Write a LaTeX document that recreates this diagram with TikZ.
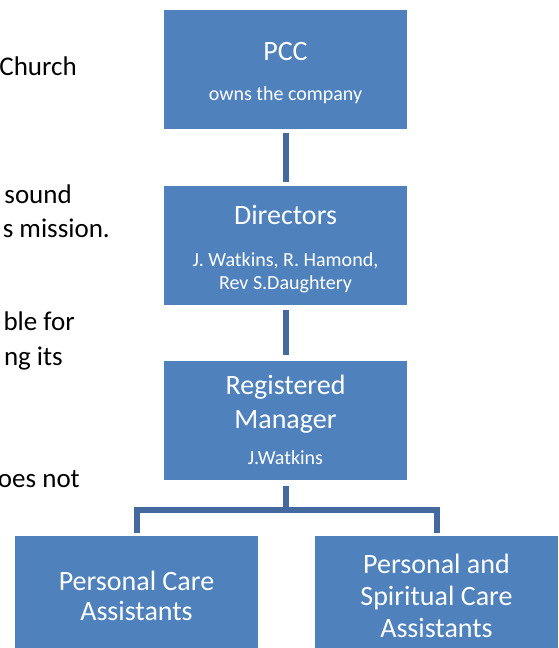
\documentclass[tikz,border=0pt]{standalone}
\usepackage{fontspec}
\setmainfont{Carlito}
\usetikzlibrary{calc}

\definecolor{boxblue}{HTML}{4F81BD}
\definecolor{linkblue}{HTML}{43699E}

\newcommand\ttlfont{\fontsize{28}{32}\selectfont}
\newcommand\subfont{\fontsize{20}{23}\selectfont}
\newcommand\pagefont{\fontsize{27}{32}\selectfont}

\tikzset{
  orgbox/.style={fill=boxblue,text=white,minimum width=243pt,minimum height=119pt,
    inner sep=0pt,align=center,font=\ttlfont},
  link/.style={draw=linkblue,line width=6pt,line join=miter},
  pagetext/.style={anchor=base east,inner sep=0pt,font=\pagefont}
}

\begin{document}
\begin{tikzpicture}[x=1pt,y=-1pt]
\useasboundingbox (0,0) rectangle (558,648);

% text of the page behind the chart
\node[pagetext] (t1) at (77,75) {Church};
\node[pagetext] (t2) at (72,203) {sound};
\node[pagetext] (t3) at (110,237) {s mission.};
\node[pagetext] (t4) at (75,330) {ble for};
\node[pagetext] (t5) at (63,365) {ng its};
\node[pagetext] (t6) at (80,487) {oes not};

% boxes
\node[orgbox] (pcc) at (285.5,69.5) {\rule{0pt}{26pt}PCC\\[8pt]\subfont owns the company};
\node[orgbox] (dir) at (285.5,245.5) {\rule{0pt}{26pt}Directors\\[10pt]\subfont J. Watkins, R. Hamond,\\[-9pt]\subfont Rev S.Daughtery};
\node[orgbox] (rm) at (285.5,420) {Registered\\[2pt]Manager\\[4pt]\subfont J.Watkins};
\node[orgbox] (pca) at (136.5,595.5) {Personal Care\\[-2pt]Assistants};
\node[orgbox] (psca) at (436.5,595.5) {Personal and\\Spiritual Care\\Assistants};

% connectors
\coordinate (split) at (285.5,509.5);
\draw[link,shorten <=4pt,shorten >=4pt] (pcc.south) -- (dir.north);
\draw[link,shorten <=5pt,shorten >=5pt] (dir.south) -- (rm.north);
\draw[link,shorten <=6pt] (rm.south) -- (split);
\draw[link,shorten <=-3pt,shorten >=3pt] (split) -| (pca.north);
\draw[link,shorten <=-3pt,shorten >=3pt] (split) -| (psca.north);

\end{tikzpicture}
\end{document}
